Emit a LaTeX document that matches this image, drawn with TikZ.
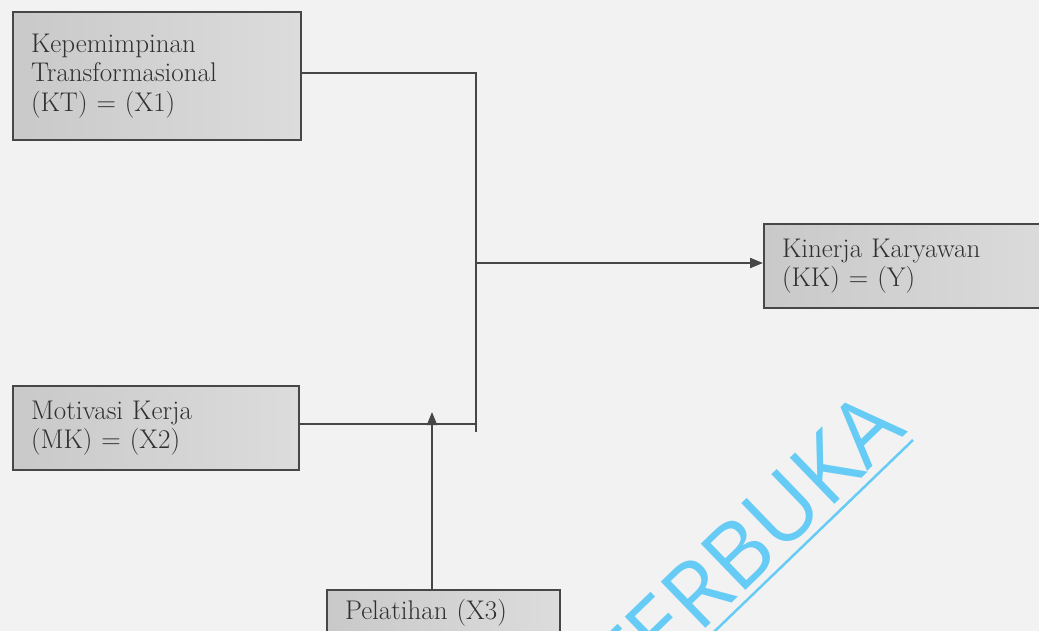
\documentclass[tikz,border=0pt]{standalone}
\usepackage{fontspec}
\newfontfamily\wmfont{Open Sans}
\usetikzlibrary{arrows.meta}
\definecolor{bg}{HTML}{F2F2F2}
\definecolor{boxl}{HTML}{C9C9C9}
\definecolor{boxr}{HTML}{DCDCDC}
\definecolor{ink}{HTML}{474747}
\definecolor{txt}{HTML}{303030}
\definecolor{wmc}{HTML}{66CCF5}
\begin{document}
\begin{tikzpicture}[x=1pt,y=-1pt,
  box/.style={draw=ink, line width=2pt, left color=boxl, right color=boxr,
    rectangle, anchor=north west, inner xsep=18pt, inner ysep=0pt,
    align=left, text=txt, font=\fontsize{27}{29.5}\selectfont},
  conn/.style={draw=ink, line width=2pt},
  arr/.style={conn, -{Triangle[length=13pt,width=10pt]}},
  wmtext/.style={text=wmc, inner sep=0pt, font=\wmfont\fontsize{90}{90}\selectfont},
  wmline/.style={draw=wmc, line width=2.5pt}]
\useasboundingbox[fill=bg] (0,0) rectangle (1039,631);

\node[box, minimum width=288pt, minimum height=128pt, text width=252pt] (kt) at (12,11)
  {Kepemimpinan\\Transformasional\\(KT) = (X1)};
\node[box, minimum width=286pt, minimum height=84pt, text width=250pt] (mk) at (12,385)
  {Motivasi Kerja\\(MK) = (X2)};
\node[box, minimum width=300pt, minimum height=84pt, text width=264pt] (kk) at (763,223)
  {Kinerja Karyawan\\(KK) = (Y)};
\node[box, minimum width=233pt, minimum height=46pt, text width=197pt] (pel) at (326,589)
  {Pelatihan (X3)};

\coordinate (jtop) at (476,73);
\coordinate (jbot) at (476,432);
\coordinate (jmid) at (476,263);
\coordinate (jmk) at (476,424);
\coordinate (ptip) at (432,412);

\draw[conn] (kt.east |- jtop) -- (jtop) -- (jbot);
\draw[conn] (mk.east |- jmk) -- (jmk);
\draw[arr] (jmid) -- (kk.west |- jmid);
\draw[arr] (pel.north -| ptip) -- (ptip);

\node[wmtext, rotate=44, anchor=base east] (wm) at (909,432) {TERBUKA};
\draw[wmline] (913,440) -- (690,655);
\end{tikzpicture}
\end{document}
